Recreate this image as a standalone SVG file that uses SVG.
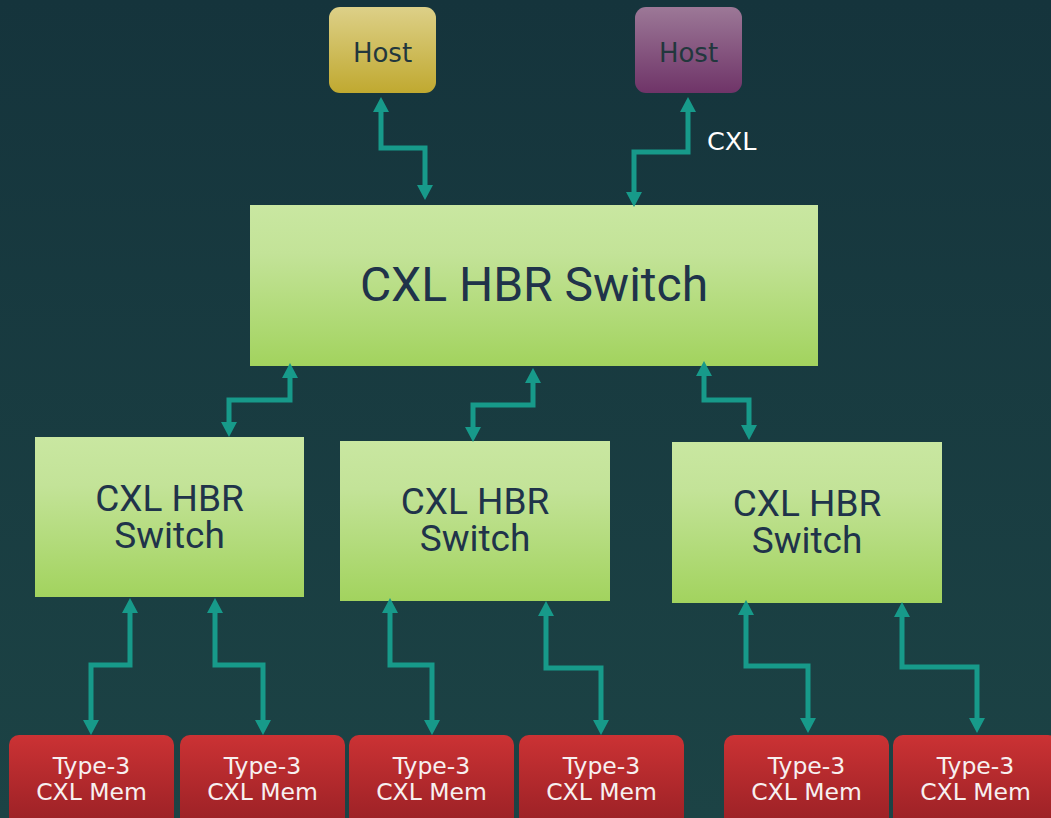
<svg xmlns="http://www.w3.org/2000/svg" width="1051" height="818" viewBox="0 0 1051 818">
  <defs>
    <linearGradient id="bg" x1="0" y1="0" x2="0" y2="1">
      <stop offset="0" stop-color="#15343c"/>
      <stop offset="1" stop-color="#1c4345"/>
    </linearGradient>
    <linearGradient id="gHostA" x1="0" y1="0" x2="0" y2="1">
      <stop offset="0" stop-color="#ddd088"/>
      <stop offset="1" stop-color="#c0a930"/>
    </linearGradient>
    <linearGradient id="gHostB" x1="0" y1="0" x2="0" y2="1">
      <stop offset="0" stop-color="#9c7897"/>
      <stop offset="1" stop-color="#6f3468"/>
    </linearGradient>
    <linearGradient id="gSwitch" x1="0" y1="0" x2="0" y2="1">
      <stop offset="0" stop-color="#c9e7a1"/>
      <stop offset="0.3" stop-color="#c3e398"/>
      <stop offset="1" stop-color="#a2d35e"/>
    </linearGradient>
    <linearGradient id="gMem" x1="0" y1="0" x2="0" y2="1">
      <stop offset="0" stop-color="#cb3234"/>
      <stop offset="1" stop-color="#951f24"/>
    </linearGradient>
    <marker id="head" viewBox="0 -8 15 16" refX="0" refY="0" markerWidth="15" markerHeight="16" markerUnits="userSpaceOnUse" orient="auto-start-reverse">
      <path d="M0,-8 L15,0 L0,8 z" fill="#179a8a"/>
    </marker>
  </defs>
  <style>
    .link { fill: none; stroke: #179a8a; stroke-width: 5; stroke-linejoin: miter; marker-start: url(#head); marker-end: url(#head); }
    .host { font-family: "DejaVu Sans", sans-serif; font-size: 26px; fill: #22373d; text-anchor: middle; }
    .sw { fill: url(#gSwitch); }
    .swtext { font-family: Roboto, "DejaVu Sans", sans-serif; fill: #20334a; text-anchor: middle; }
    .mem { fill: url(#gMem); }
    .memtext { font-family: "DejaVu Sans", sans-serif; font-size: 23.5px; fill: #f7f0f0; text-anchor: middle; }
    .label { font-family: "DejaVu Sans", sans-serif; font-size: 25.5px; fill: #ffffff; }
  </style>

  <rect width="1051" height="818" fill="url(#bg)"/>

  <!-- hosts -->
  <g id="host-a">
    <rect x="329" y="7" width="107" height="86" rx="11" fill="url(#gHostA)"/>
    <text class="host" x="382.5" y="62">Host</text>
  </g>
  <g id="host-b">
    <rect x="635" y="7" width="107" height="86" rx="11" fill="url(#gHostB)"/>
    <text class="host" x="688.5" y="62">Host</text>
  </g>

  <!-- top-level switch -->
  <g id="switch-root">
    <rect class="sw" x="250" y="205" width="568" height="161"/>
    <text class="swtext" x="534" y="301" font-size="48">CXL HBR Switch</text>
  </g>

  <!-- second-level switches -->
  <g id="switch-left">
    <rect class="sw" x="35" y="437" width="269" height="160"/>
    <text class="swtext" x="169.5" y="511" font-size="37">CXL HBR</text>
    <text class="swtext" x="169.5" y="548" font-size="37">Switch</text>
  </g>
  <g id="switch-mid">
    <rect class="sw" x="340" y="441" width="270" height="160"/>
    <text class="swtext" x="475" y="514" font-size="37">CXL HBR</text>
    <text class="swtext" x="475" y="551" font-size="37">Switch</text>
  </g>
  <g id="switch-right">
    <rect class="sw" x="672" y="442" width="270" height="161"/>
    <text class="swtext" x="807" y="516" font-size="37">CXL HBR</text>
    <text class="swtext" x="807" y="553" font-size="37">Switch</text>
  </g>

  <!-- type-3 memory devices -->
  <g id="mem-1">
    <rect class="mem" x="9" y="735" width="165" height="100" rx="10"/>
    <text class="memtext" x="91.5" y="774">Type-3</text>
    <text class="memtext" x="91.5" y="800">CXL Mem</text>
  </g>
  <g id="mem-2">
    <rect class="mem" x="180" y="735" width="165" height="100" rx="10"/>
    <text class="memtext" x="262.5" y="774">Type-3</text>
    <text class="memtext" x="262.5" y="800">CXL Mem</text>
  </g>
  <g id="mem-3">
    <rect class="mem" x="349" y="735" width="165" height="100" rx="10"/>
    <text class="memtext" x="431.5" y="774">Type-3</text>
    <text class="memtext" x="431.5" y="800">CXL Mem</text>
  </g>
  <g id="mem-4">
    <rect class="mem" x="519" y="735" width="165" height="100" rx="10"/>
    <text class="memtext" x="601.5" y="774">Type-3</text>
    <text class="memtext" x="601.5" y="800">CXL Mem</text>
  </g>
  <g id="mem-5">
    <rect class="mem" x="724" y="735" width="165" height="100" rx="10"/>
    <text class="memtext" x="806.5" y="774">Type-3</text>
    <text class="memtext" x="806.5" y="800">CXL Mem</text>
  </g>
  <g id="mem-6">
    <rect class="mem" x="893" y="735" width="165" height="100" rx="10"/>
    <text class="memtext" x="975.5" y="774">Type-3</text>
    <text class="memtext" x="975.5" y="800">CXL Mem</text>
  </g>

  <!-- bidirectional links -->
  <g id="connectors">
    <path class="link" d="M381 112 V148 H425 V185"/>
    <path class="link" d="M688 112 V152 H634 V192"/>
    <path class="link" d="M290 378 V400 H229 V422"/>
    <path class="link" d="M533 383 V405 H473 V427"/>
    <path class="link" d="M704 376 V400 H749 V425"/>
    <path class="link" d="M130 613 V665 H91 V720"/>
    <path class="link" d="M215 613 V665 H263 V720"/>
    <path class="link" d="M390 613 V665 H432 V720"/>
    <path class="link" d="M546 616 V668 H601 V720"/>
    <path class="link" d="M746 615 V666 H808 V718"/>
    <path class="link" d="M902 617 V667 H977 V718"/>
    <text class="label" x="707" y="150">CXL</text>
  </g>
</svg>
